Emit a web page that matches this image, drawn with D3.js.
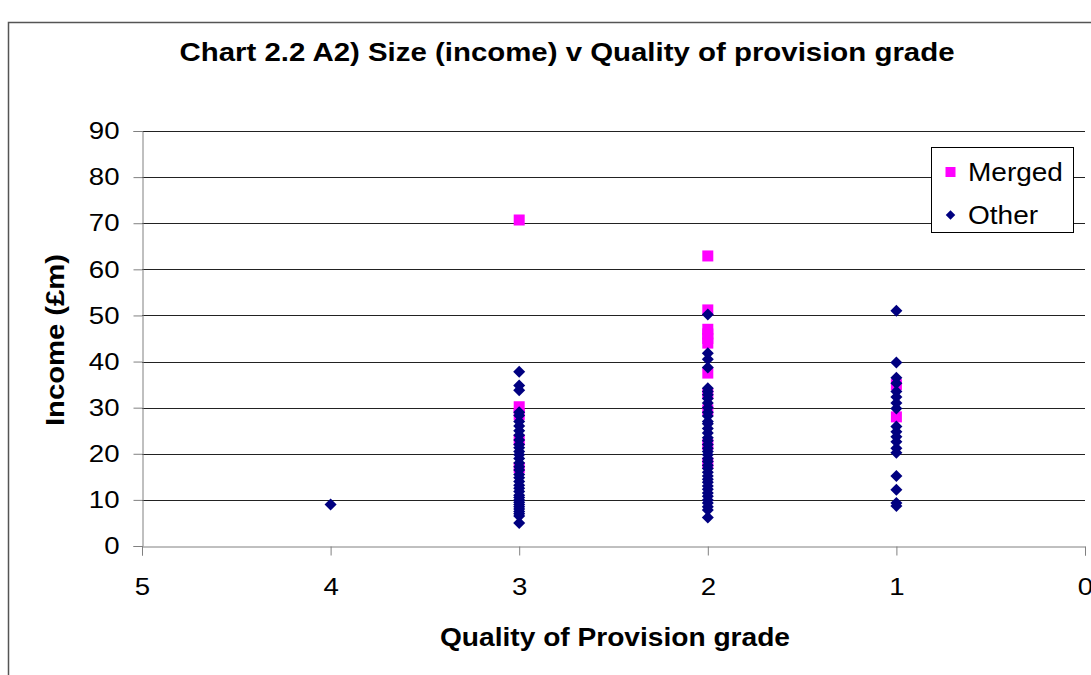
<!DOCTYPE html>
<html>
<head>
<meta charset="utf-8">
<script src="https://cdn.jsdelivr.net/npm/d3@7"></script>
<style>
  html, body { margin: 0; padding: 0; background: #fff; }
  svg { display: block; font-family: "Liberation Sans", Arial, sans-serif; }
</style>
</head>
<body>
<svg id="chart" width="1091" height="675"></svg>
<script>
// Income (£m) by Quality of Provision grade
const chartTitle = "Chart 2.2 A2) Size (income) v Quality of provision grade";
const xTitle = "Quality of Provision grade";
const yTitle = "Income (£m)";
const seriesNames = ["Merged", "Other"];
const xTicks = [5, 4, 3, 2, 1, 0];
const yTicks = [0, 10, 20, 30, 40, 50, 60, 70, 80, 90];

// Merged institutions
const mergedGrade3 = [70.7, 30.2, 28.5, 23.0, 17.0];
const mergedGrade2 = [62.9, 51.2, 47.0, 46.0, 45.0, 44.0, 37.5, 33.0, 29.5, 22.0, 18.0];
const mergedGrade1 = [35.0, 28.0];

// All other institutions
const otherGrade4 = [9.0];
const otherGrade3 = [37.8, 34.8, 33.8, 29.0, 28.3, 27.0, 26.0, 25.0, 24.0, 23.0, 22.0, 21.3,
  20.5, 19.8, 19.0, 18.0, 17.2, 16.5, 15.5, 14.8, 14.0, 13.2, 12.5, 11.8, 11.0, 10.5, 10.0,
  9.5, 9.0, 8.5, 8.0, 7.5, 7.0, 6.5, 5.0];
const otherGrade2 = [50.2, 41.8, 40.5, 38.7, 34.2, 33.5, 32.8, 32.0, 31.0, 30.0, 29.0, 28.2,
  27.0, 26.5, 25.5, 24.5, 23.5, 22.8, 22.0, 21.2, 20.5, 19.8, 19.0, 18.3, 17.5, 16.8, 16.0,
  15.2, 14.5, 13.8, 13.0, 12.3, 11.5, 10.8, 10.0, 9.3, 8.5, 7.8, 6.2];
const otherGrade1 = [51.0, 39.8, 36.5, 35.3, 33.5, 32.3, 31.0, 29.8, 25.9, 24.8, 23.7, 22.6,
  21.2, 20.2, 15.2, 12.2, 9.3, 8.7];

const toPoints = (grade, values) => values.map(v => ({ grade, income: v }));
const mergedPoints = [].concat(
  toPoints(3, mergedGrade3), toPoints(2, mergedGrade2), toPoints(1, mergedGrade1));
const otherPoints = [].concat(
  toPoints(4, otherGrade4), toPoints(3, otherGrade3), toPoints(2, otherGrade2), toPoints(1, otherGrade1));

const svg = d3.select("#chart");
const plot = { left: 142, right: 1085, top: 131, bottom: 546 };

const x = d3.scaleLinear().domain([5, 0]).range([plot.left, plot.right]);
const y = d3.scaleLinear().domain([0, 90]).range([plot.bottom, plot.top]);

// widen a text element horizontally by a factor
function widen(sel, factor) {
  sel.each(function () {
    const w = this.getComputedTextLength();
    d3.select(this)
      .attr("textLength", w * factor)
      .attr("lengthAdjust", "spacingAndGlyphs");
  });
}

// outer chart frame
svg.append("rect")
  .attr("x", 8.5).attr("y", 22.5)
  .attr("width", 1100).attr("height", 700)
  .attr("fill", "none").attr("stroke", "#555").attr("stroke-width", 1.5);

// horizontal gridlines
svg.append("g")
  .selectAll("line")
  .data(yTicks.filter(t => t > 0))
  .join("line")
  .attr("x1", plot.left).attr("x2", plot.right)
  .attr("y1", d => Math.round(y(d)) + 0.5).attr("y2", d => Math.round(y(d)) + 0.5)
  .attr("stroke", "#222").attr("stroke-width", 1);

// y axis
const yAxis = svg.append("g")
  .attr("transform", `translate(${plot.left + 0.5},0)`)
  .call(d3.axisLeft(y).tickValues(yTicks).tickSize(9).tickPadding(14).tickFormat(d3.format("d")));
yAxis.select(".domain").attr("stroke", "#808080");
yAxis.selectAll(".tick line").attr("stroke", "#808080");
yAxis.selectAll(".tick text")
  .attr("font-size", 24).attr("fill", "#000")
  .attr("font-family", "Liberation Sans, Arial, sans-serif")
  .call(widen, 1.15);

// x axis
const xAxis = svg.append("g")
  .attr("transform", `translate(0,${Math.round(plot.bottom) + 0.5})`)
  .call(d3.axisBottom(x).tickValues(xTicks).tickSize(9).tickPadding(22).tickFormat(d3.format("d")));
xAxis.select(".domain").attr("stroke", "#808080");
xAxis.selectAll(".tick line").attr("stroke", "#808080");
xAxis.selectAll(".tick text")
  .attr("font-size", 24).attr("fill", "#000")
  .attr("font-family", "Liberation Sans, Arial, sans-serif")
  .call(widen, 1.15);

// markers
const squareSize = 11;
const diamond = d3.symbol().type(d3.symbolDiamond2).size(92);

svg.append("g")
  .selectAll("rect")
  .data(mergedPoints)
  .join("rect")
  .attr("x", d => x(d.grade) - squareSize / 2)
  .attr("y", d => y(d.income) - squareSize / 2)
  .attr("width", squareSize).attr("height", squareSize)
  .attr("fill", "#FF00FF");

svg.append("g")
  .selectAll("path")
  .data(otherPoints)
  .join("path")
  .attr("transform", d => `translate(${x(d.grade)},${y(d.income)})`)
  .attr("d", diamond)
  .attr("fill", "#000080");

// legend
const legend = svg.append("g");
legend.append("rect")
  .attr("x", 931.5).attr("y", 147.5).attr("width", 142).attr("height", 85)
  .attr("fill", "#fff").attr("stroke", "#000").attr("stroke-width", 1);
legend.append("rect")
  .attr("x", 945.5).attr("y", 167).attr("width", 10).attr("height", 10)
  .attr("fill", "#FF00FF");
legend.append("path")
  .attr("transform", "translate(950.5,215)")
  .attr("d", d3.symbol().type(d3.symbolDiamond2).size(58))
  .attr("fill", "#000080");
legend.selectAll("text.lg")
  .data(seriesNames)
  .join("text")
  .attr("class", "lg")
  .attr("x", 968)
  .attr("y", (d, i) => 181 + i * 43)
  .attr("font-size", 25)
  .text(d => d)
  .call(widen, 1.12);

// titles
svg.append("text")
  .attr("x", 567).attr("y", 61)
  .attr("text-anchor", "middle")
  .attr("font-size", 25).attr("font-weight", "bold")
  .attr("textLength", 775).attr("lengthAdjust", "spacingAndGlyphs")
  .text(chartTitle);

svg.append("text")
  .attr("x", 615).attr("y", 646)
  .attr("text-anchor", "middle")
  .attr("font-size", 25).attr("font-weight", "bold")
  .attr("textLength", 350).attr("lengthAdjust", "spacingAndGlyphs")
  .text(xTitle);

svg.append("text")
  .attr("transform", "translate(64,340) rotate(-90)")
  .attr("text-anchor", "middle")
  .attr("font-size", 25).attr("font-weight", "bold")
  .attr("textLength", 172).attr("lengthAdjust", "spacingAndGlyphs")
  .text(yTitle);
</script>
</body>
</html>
